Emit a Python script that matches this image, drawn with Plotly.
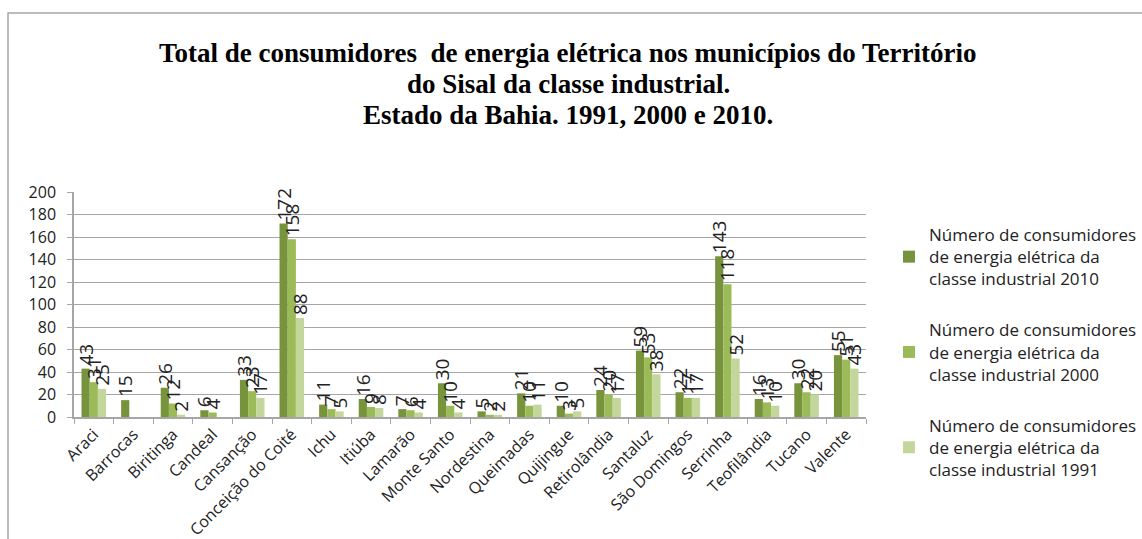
import plotly.graph_objects as go

municipios = ["Araci", "Barrocas", "Biritinga", "Candeal", "Cansanção", "Conceição do Coité",
              "Ichu", "Itiúba", "Lamarão", "Monte Santo", "Nordestina", "Queimadas",
              "Quijingue", "Retirolândia", "Santaluz", "São Domingos", "Serrinha",
              "Teofilândia", "Tucano", "Valente"]
v2010 = [43, 15, 26, 6, 33, 172, 11, 16, 7, 30, 5, 21, 10, 24, 59, 22, 143, 16, 30, 55]
v2000 = [31, None, 12, 4, 23, 158, 7, 9, 6, 10, 2, 10, 3, 20, 53, 17, 118, 13, 22, 51]
v1991 = [25, None, 2, None, 17, 88, 5, 8, 4, 4, 2, 11, 5, 17, 38, 17, 52, 10, 20, 43]

names = ["Número de consumidores<br>de energia elétrica da<br>classe industrial 2010",
         "Número de consumidores<br>de energia elétrica da<br>classe industrial 2000",
         "Número de consumidores<br>de energia elétrica da<br>classe industrial 1991"]
colors = ["#77933C", "#9BBB59", "#C3D69B"]
title_lines = ["Total de consumidores  de energia elétrica nos municípios do Território",
               "do Sisal da classe industrial.",
               "Estado da Bahia. 1991, 2000 e 2010."]

L, R, T, B = 74, 866, 192, 417
W, H = 1142, 539
pw, ph = R - L, B - T


def px_x(p):
    return (p - L) / pw


def px_y(p):
    return (B - p) / ph


fig = go.Figure()
for i, (vals, nm, col) in enumerate(zip([v2010, v2000, v1991], names, colors)):
    fig.add_trace(go.Bar(
        x=municipios, y=vals, name=nm, marker=dict(color=col, line=dict(width=0)),
        text=[("" if v is None else str(v)) for v in vals],
        textposition="outside", textangle=-90, constraintext="none", cliponaxis=False,
        textfont=dict(family="Open Sans", size=19, color="#222222"),
        legendgroup=f"g{i}",
    ))

for line, yc in zip(title_lines, [53, 84, 115]):
    fig.add_annotation(
        text=line, xref="paper", yref="paper", x=px_x(568), y=px_y(yc),
        xanchor="center", yanchor="middle", showarrow=False,
        font=dict(family="Liberation Serif", size=27, color="#000000", weight="bold"),
    )

# outer chart border
fig.add_shape(type="rect", xref="paper", yref="paper",
              x0=px_x(8), x1=px_x(1160), y0=px_y(560), y1=px_y(13),
              line=dict(color="#A6A6A6", width=1.5), fillcolor="rgba(0,0,0,0)", layer="below")

fig.update_layout(
    width=W, height=H,
    margin=dict(l=L, r=W - R, t=T, b=H - B, pad=0, autoexpand=False),
    paper_bgcolor="white", plot_bgcolor="white",
    barmode="group", bargap=0.38, bargroupgap=0,
    font=dict(family="Open Sans", size=14, color="#222222"),
    legend=dict(x=px_x(889), y=px_y(217), xanchor="left", yanchor="top",
                traceorder="grouped", tracegroupgap=26, maxheight=800,
                font=dict(family="Open Sans", size=17, color="#222222"),
                itemwidth=30),
    showlegend=True,
)
fig.update_xaxes(
    tickangle=-45, tickfont=dict(family="Open Sans", size=16, color="#222222"),
    showline=True, linecolor="#A6A6A6", linewidth=1.5, automargin=False,
    ticks="outside", tickson="boundaries", ticklen=5, tickcolor="#A6A6A6",
    showgrid=False,
)
fig.update_yaxes(
    range=[0, 200], dtick=20, tickfont=dict(family="Open Sans", size=16, color="#222222"),
    showline=True, linecolor="#A6A6A6", linewidth=1.5, automargin=False,
    ticks="outside", ticklen=5, tickcolor="#A6A6A6", ticklabelstandoff=8,
    showgrid=True, gridcolor="#A6A6A6", gridwidth=1.2, zeroline=False,
)

fig.write_html("out.html", config={"displayModeBar": False},
               post_script="document.body.style.margin='0';document.body.style.overflow='hidden';")
